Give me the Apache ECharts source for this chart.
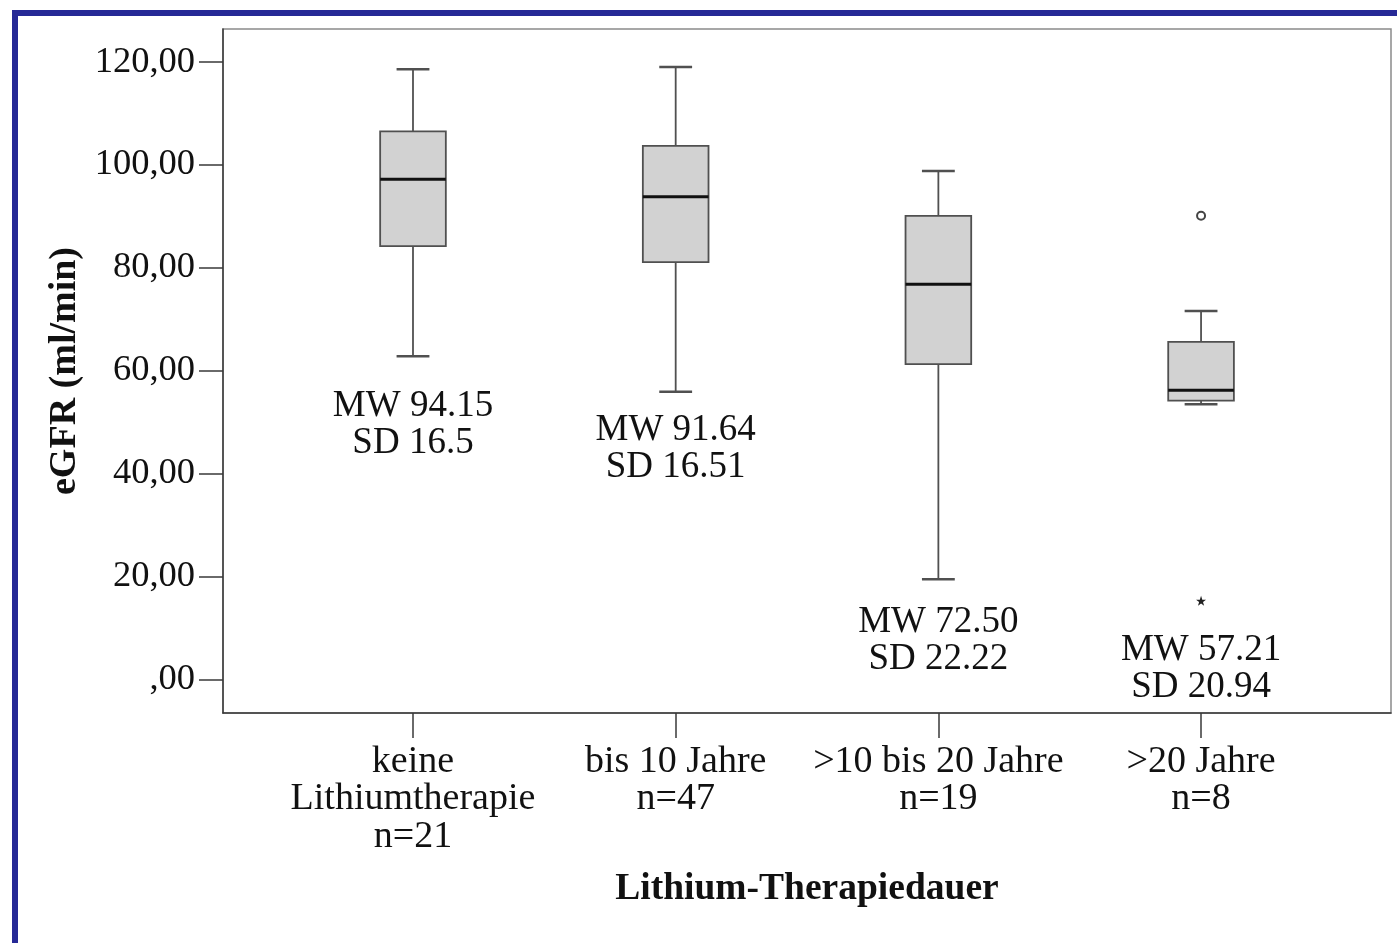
<!DOCTYPE html>
<html>
<head>
<meta charset="utf-8">
<script src="https://cdn.jsdelivr.net/npm/echarts@6/dist/echarts.min.js"></script>
<style>
  html, body { margin: 0; padding: 0; background: #ffffff; }
  #frame { position: absolute; left: 12px; top: 10px; width: 1385px; height: 933px;
           border-left: 6px solid #262996; border-top: 6px solid #262996; box-sizing: border-box; }
  #chart { position: absolute; left: 0; top: 0; width: 1397px; height: 943px; }
</style>
</head>
<body>
<div id="frame"></div>
<div id="chart"></div>
<script>
// ---- data ----
const categories = ['keine\nLithiumtherapie\nn=21', 'bis 10 Jahre\nn=47', '>10 bis 20 Jahre\nn=19', '>20 Jahre\nn=8'];
const lowerWhisker = [62.8, 55.9, 19.5, 53.5];
const q1Values     = [84.2, 81.1, 61.3, 54.2];
const medianValues = [97.2, 93.8, 76.8, 56.2];
const q3Values     = [106.5, 103.7, 90.1, 65.6];
const upperWhisker = [118.6, 119.0, 98.8, 71.6];
const outlierCircles = [[3, 90.1]];
const outlierStars   = [[3, 15.3]];
const meanLabels = ['94.15', '91.64', '72.50', '57.21'];
const sdLabels   = ['16.5', '16.51', '22.22', '20.94'];
const annotationY = [49.5, 44.8, 7.6, 2.1];
const yTicks = [0, 20, 40, 60, 80, 100, 120];
const yTickLabels = [',00', '20,00', '40,00', '60,00', '80,00', '100,00', '120,00'];
const yTitle = 'eGFR (ml/min)';
const xTitle = 'Lithium-Therapiedauer';

// ---- chart ----
const FONT = '"Liberation Serif", "Times New Roman", serif';
const Y_MIN = -6.5, Y_MAX = 126.4;
const chart = echarts.init(document.getElementById('chart'), null, { renderer: 'canvas' });

const boxData = categories.map((c, i) => [i, lowerWhisker[i], q1Values[i], medianValues[i], q3Values[i], upperWhisker[i]]);
const annData = categories.map((c, i) => [i, annotationY[i]]);

const starPath = 'path://M50,0 L61.8,35.1 L98.1,35.1 L68.8,56.7 L79.4,90.9 L50,69.3 L20.6,90.9 L31.2,56.7 L1.9,35.1 L38.2,35.1 Z';

const option = {
  animation: false,
  backgroundColor: 'transparent',
  textStyle: { fontFamily: FONT, color: '#111' },
  grid: [
    { left: 223, right: 6, top: 29, bottom: 230, show: true, borderColor: '#8a8a8a', borderWidth: 1.5, backgroundColor: 'transparent' },
    { left: 281.65, right: 64.6, top: 29, bottom: 230 }
  ],
  xAxis: [
    { gridIndex: 0, type: 'value', min: 0, max: 1,
      axisLine: { show: true, onZero: false, lineStyle: { color: '#3a3a3a', width: 1.5 } },
      axisTick: { show: false }, axisLabel: { show: false }, splitLine: { show: false },
      name: xTitle, nameLocation: 'middle', nameGap: 157,
      nameTextStyle: { fontFamily: FONT, fontWeight: 'bold', fontSize: 37.5, color: '#111' } },
    { gridIndex: 1, type: 'category', data: categories, boundaryGap: true,
      axisLine: { show: false, onZero: false },
      axisTick: { show: true, alignWithLabel: true, length: 25, lineStyle: { color: '#3a3a3a', width: 1.5 } },
      axisLabel: { margin: 30, fontFamily: FONT, fontSize: 38, lineHeight: 37.5, color: '#111', interval: 0 },
      splitLine: { show: false } }
  ],
  yAxis: [
    { gridIndex: 0, type: 'value', min: Y_MIN, max: Y_MAX,
      axisLine: { show: true, onZero: false, lineStyle: { color: '#3a3a3a', width: 1.5 } },
      axisTick: { show: true, length: 24, customValues: yTicks, lineStyle: { color: '#3a3a3a', width: 1.5 } },
      axisLabel: { show: true, customValues: yTicks, margin: 28, fontFamily: FONT, fontSize: 36.5, color: '#111',
        formatter: v => yTickLabels[yTicks.indexOf(Math.round(v))] },
      splitLine: { show: false },
      name: yTitle, nameLocation: 'middle', nameGap: 131, nameRotate: 90,
      nameTextStyle: { fontFamily: FONT, fontWeight: 'bold', fontSize: 38, color: '#111' } },
    { gridIndex: 1, type: 'value', min: Y_MIN, max: Y_MAX, show: false }
  ],
  series: [
    {
      type: 'custom', xAxisIndex: 1, yAxisIndex: 1, data: boxData,
      encode: { x: 0, y: [1, 2, 3, 4, 5] },
      renderItem: function (params, api) {
        const i = api.value(0);
        const pLow = api.coord([i, api.value(1)]);
        const pQ1 = api.coord([i, api.value(2)]);
        const pMed = api.coord([i, api.value(3)]);
        const pQ3 = api.coord([i, api.value(4)]);
        const pHigh = api.coord([i, api.value(5)]);
        const band = api.size([1, 0])[0];
        const bw = band * 0.25, cw = band * 0.125;
        const x = pMed[0];
        const ls = { stroke: '#505050', lineWidth: 1.8 };
        return {
          type: 'group',
          children: [
            { type: 'line', shape: { x1: x, y1: pHigh[1], x2: x, y2: pQ3[1] }, style: ls },
            { type: 'line', shape: { x1: x, y1: pQ1[1], x2: x, y2: pLow[1] }, style: ls },
            { type: 'line', shape: { x1: x - cw / 2, y1: pHigh[1], x2: x + cw / 2, y2: pHigh[1] }, style: { stroke: '#505050', lineWidth: 2.5 } },
            { type: 'line', shape: { x1: x - cw / 2, y1: pLow[1], x2: x + cw / 2, y2: pLow[1] }, style: { stroke: '#505050', lineWidth: 2.5 } },
            { type: 'rect', shape: { x: x - bw / 2, y: pQ3[1], width: bw, height: pQ1[1] - pQ3[1] },
              style: { fill: '#d2d2d2', stroke: '#505050', lineWidth: 1.8 } },
            { type: 'line', shape: { x1: x - bw / 2, y1: pMed[1], x2: x + bw / 2, y2: pMed[1] }, style: { stroke: '#111', lineWidth: 3 } }
          ]
        };
      }
    },
    {
      type: 'scatter', xAxisIndex: 1, yAxisIndex: 1, data: outlierCircles,
      symbol: 'emptyCircle', symbolSize: 8,
      itemStyle: { color: '#444', borderColor: '#444', borderWidth: 1.3, opacity: 1 }
    },
    {
      type: 'scatter', xAxisIndex: 1, yAxisIndex: 1, data: outlierStars,
      symbol: starPath, symbolSize: 10,
      itemStyle: { color: '#222', opacity: 1 }
    },
    {
      type: 'scatter', xAxisIndex: 1, yAxisIndex: 1, data: annData,
      symbolSize: 0, silent: true,
      itemStyle: { opacity: 1 },
      label: {
        show: true, position: 'inside', fontFamily: FONT, fontSize: 37, lineHeight: 37, color: '#111',
        formatter: p => 'MW ' + meanLabels[p.dataIndex] + '\nSD ' + sdLabels[p.dataIndex]
      }
    }
  ]
};
chart.setOption(option);
</script>
</body>
</html>
